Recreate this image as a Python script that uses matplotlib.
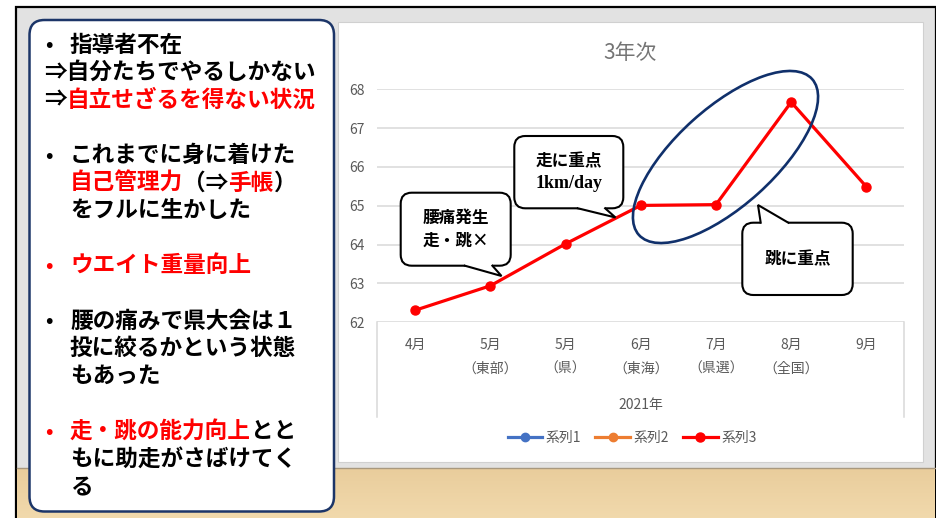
import numpy as np
import matplotlib
matplotlib.use("Agg")
import matplotlib.pyplot as plt
from matplotlib.patches import FancyBboxPatch, Rectangle, Ellipse, Polygon
from matplotlib.lines import Line2D

plt.rcParams["font.family"] = ["Noto Sans CJK JP", "DejaVu Sans"]

# ------------------------------------------------------
# データ
# ------------------------------------------------------
categories = ["4月", "5月", "5月", "6月", "7月", "8月", "9月"]
sub_labels = ["", "（東部）", "（県）", "（東海）", "（県選）", "（全国）", ""]
series1 = []
series2 = []
series3 = [62.31, 62.94, 64.02, 65.01, 65.03, 67.67, 65.49]
series_names = ["系列1", "系列2", "系列3"]
y_ticks = [62, 63, 64, 65, 66, 67, 68]
chart_title = "3年次"
group_label = "2021年"

RED = "#FF0000"
BLACK = "#000000"

# 左のテキスト: (種類, 行の中身)  None = 空行
left_lines = [
    ("bullet", [("指導者不在", BLACK)]),
    ("flush", [("⇒自分たちでやるしかない", BLACK)]),
    ("flush", [("⇒", BLACK), ("自立せざるを得ない状況", RED)]),
    None,
    ("bullet", [("これまでに身に着けた", BLACK)]),
    ("cont", [("自己管理力", RED), ("（⇒", BLACK), ("手帳", RED), ("）", BLACK)]),
    ("cont", [("をフルに生かした", BLACK)]),
    None,
    ("bullet_red", [("ウエイト重量向上", RED)]),
    None,
    ("bullet", [("腰の痛みで県大会は１", BLACK)]),
    ("cont", [("投に絞るかという状態", BLACK)]),
    ("cont", [("もあった", BLACK)]),
    None,
    ("bullet_red", [("走・跳の能力向上", RED), ("とと", BLACK)]),
    ("cont", [("もに助走がさばけてく", BLACK)]),
    ("cont", [("る", BLACK)]),
]

callouts = [
    # (box x0, y0, x1, y1, tip, lines)
    ((400.7, 192.7, 510.7, 265.7), (501.5, 276.0), ["腰痛発生", "走・跳×"]),
    ((514.3, 136.0, 623.3, 208.3), (615.5, 217.5), ["走に重点", "1km/day"]),
    ((742.3, 222.7, 852.7, 295.0), (758.0, 205.0), ["跳に重点"]),
]

# ------------------------------------------------------
# レイアウト
# ------------------------------------------------------
W, H = 937, 518
GRAY_TXT = "#595959"
GRID = "#d9d9d9"
LBL = 10

fig = plt.figure(figsize=(W / 100, H / 100), dpi=100)
fig.patch.set_facecolor("white")

bg = fig.add_axes([0, 0, 1, 1], zorder=0)
bg.set_xlim(0, W)
bg.set_ylim(H, 0)
bg.axis("off")

# スライド枠 + 床
bg.add_patch(Rectangle((16, 7), 920, 530, fc="#e2e2e2", ec="black", lw=1.6))
floor = np.linspace(0, 1, 50).reshape(-1, 1)
bg.imshow(floor, extent=[17, 935, 518, 468], cmap=matplotlib.colors.LinearSegmentedColormap.from_list(
    "wood", ["#e9cd9c", "#f1d9ac"]), aspect="auto", zorder=1)
bg.plot([17, 935], [468, 468], color="#a8987e", lw=1.0, zorder=2)

# グラフの白い領域
bg.add_patch(Rectangle((338, 22), 585, 440, fc="white", ec="#d0d0d0", lw=0.8, zorder=2))

# 左の角丸ボックス
bg.add_patch(FancyBboxPatch((29.5, 20), 304.5, 491.5,
                            boxstyle="round,pad=0,rounding_size=15",
                            fc="white", ec="#1c3568", lw=1.8, zorder=3))

fig.canvas.draw()
renderer = fig.canvas.get_renderer()


def draw_runs(ax, x, y, runs, size, **kw):
    for s, c in runs:
        t = ax.text(x, y, s, color=c, fontsize=size, va="center", ha="left",
                    zorder=5, **kw)
        x += t.get_window_extent(renderer).width
    return x


LEFT_SIZE = 16.3
LINE_H = 27.6
for i, item in enumerate(left_lines):
    if item is None:
        continue
    kind, runs = item
    y = 45 + i * LINE_H
    if kind.startswith("bullet"):
        bcol = RED if kind == "bullet_red" else BLACK
        bg.text(45, y, "•", color=bcol, fontsize=14.5, va="center",
                ha="left", fontweight="bold", zorder=5)
        draw_runs(bg, 70, y, runs, LEFT_SIZE, fontweight="bold")
    elif kind == "cont":
        draw_runs(bg, 70, y, runs, LEFT_SIZE, fontweight="bold")
    else:
        draw_runs(bg, 44, y, runs, LEFT_SIZE, fontweight="bold")

# ------------------------------------------------------
# グラフ本体
# ------------------------------------------------------
ax_l, ax_r, ax_t, ax_b = 377.5, 904.0, 89.3, 322.3
ax = fig.add_axes([ax_l / W, 1 - ax_b / H, (ax_r - ax_l) / W, (ax_b - ax_t) / H], zorder=2)
ax.set_facecolor("none")
x = np.arange(len(categories))
ax.plot(series1, series1, color="#4472C4", lw=2.3, marker="o", ms=6, label=series_names[0])
ax.plot(series2, series2, color="#ED7D31", lw=2.3, marker="o", ms=6, label=series_names[1])
ax.plot(x, series3, color=RED, lw=2.3, marker="o", ms=6.5, label=series_names[2],
        zorder=4, clip_on=False)

ax.set_xlim(-0.5, len(categories) - 0.5)
ax.set_ylim(y_ticks[0], y_ticks[-1])
ax.set_yticks(y_ticks)
ax.set_xticks([])
ax.yaxis.grid(True, color=GRID, lw=1.1)
ax.set_axisbelow(True)
for s in ax.spines.values():
    s.set_visible(False)
ax.tick_params(axis="y", length=0, pad=9, labelsize=LBL, labelcolor=GRAY_TXT)

axh = ax_b - ax_t
xt = ax.get_xaxis_transform()
for i, (c, s) in enumerate(zip(categories, sub_labels)):
    ax.text(i, -22.7 / axh, c, transform=xt, ha="center", va="center",
            fontsize=LBL, color=GRAY_TXT)
    if s:
        ax.text(i, -45.9 / axh, s, transform=xt, ha="center", va="center",
                fontsize=LBL, color=GRAY_TXT)
ax.text(0.5, -(405 - ax_b) / axh, group_label, transform=ax.transAxes,
        ha="center", va="center", fontsize=LBL, color=GRAY_TXT)
for xe in (-0.5, len(categories) - 0.5):
    ax.plot([xe, xe], [0, -(417 - ax_b) / axh], transform=xt, color=GRID,
            lw=1.1, clip_on=False)

leg = ax.legend(loc="center", bbox_to_anchor=(632 / W, 1 - 438 / H),
                bbox_transform=fig.transFigure, ncol=3, frameon=False,
                handlelength=2.5, handletextpad=0.25, columnspacing=1.0,
                fontsize=LBL)
for t in leg.get_texts():
    t.set_color(GRAY_TXT)

# ------------------------------------------------------
# 前面: タイトル、楕円、吹き出し
# ------------------------------------------------------
fg = fig.add_axes([0, 0, 1, 1], zorder=5)
fg.set_xlim(0, W)
fg.set_ylim(H, 0)
fg.axis("off")

fg.text(630, 53, chart_title, ha="center", va="center", fontsize=15, color="#747474")

fg.add_patch(Ellipse((725.5, 157), 233, 98, angle=-42, fill=False,
                     ec="#10306b", lw=1.9, zorder=6))


def callout(ax, box, tip, lines):
    x0, y0, x1, y1 = box
    w = x1 - x0
    ax.add_patch(FancyBboxPatch((x0, y0), w, y1 - y0,
                                boxstyle="round,pad=0,rounding_size=11",
                                fc="white", ec="black", lw=1.5, zorder=7))
    cx = (x0 + x1) / 2
    g1, g2 = (7, 10) if tip[0] > cx else (2, 5)
    ba, bb = x0 + w * g1 / 12, x0 + w * g2 / 12
    if tip[1] > y1:
        ye, yi = y1, y1 - 3
    else:
        ye, yi = y0, y0 + 3
    ax.add_patch(Polygon([(ba, yi), (ba, ye), tip, (bb, ye), (bb, yi)],
                         closed=True, fc="white", ec="none", zorder=8))
    ax.add_line(Line2D([ba, tip[0], bb], [ye, tip[1], ye], color="black",
                       lw=1.5, zorder=9, solid_joinstyle="miter"))
    cy = (y0 + y1) / 2
    n = len(lines)
    for k, s in enumerate(lines):
        yy = cy + (k - (n - 1) / 2) * 22.3
        if s.isascii():
            ax.text(cx, yy, s, ha="center", va="center", fontsize=13,
                    fontweight="bold", family=["Liberation Serif"], zorder=10)
        else:
            ax.text(cx, yy, s, ha="center", va="center", fontsize=12,
                    fontweight="bold", zorder=10)


for box, tip, lines in callouts:
    callout(fg, box, tip, lines)

fig.savefig("out.png", dpi=100)
